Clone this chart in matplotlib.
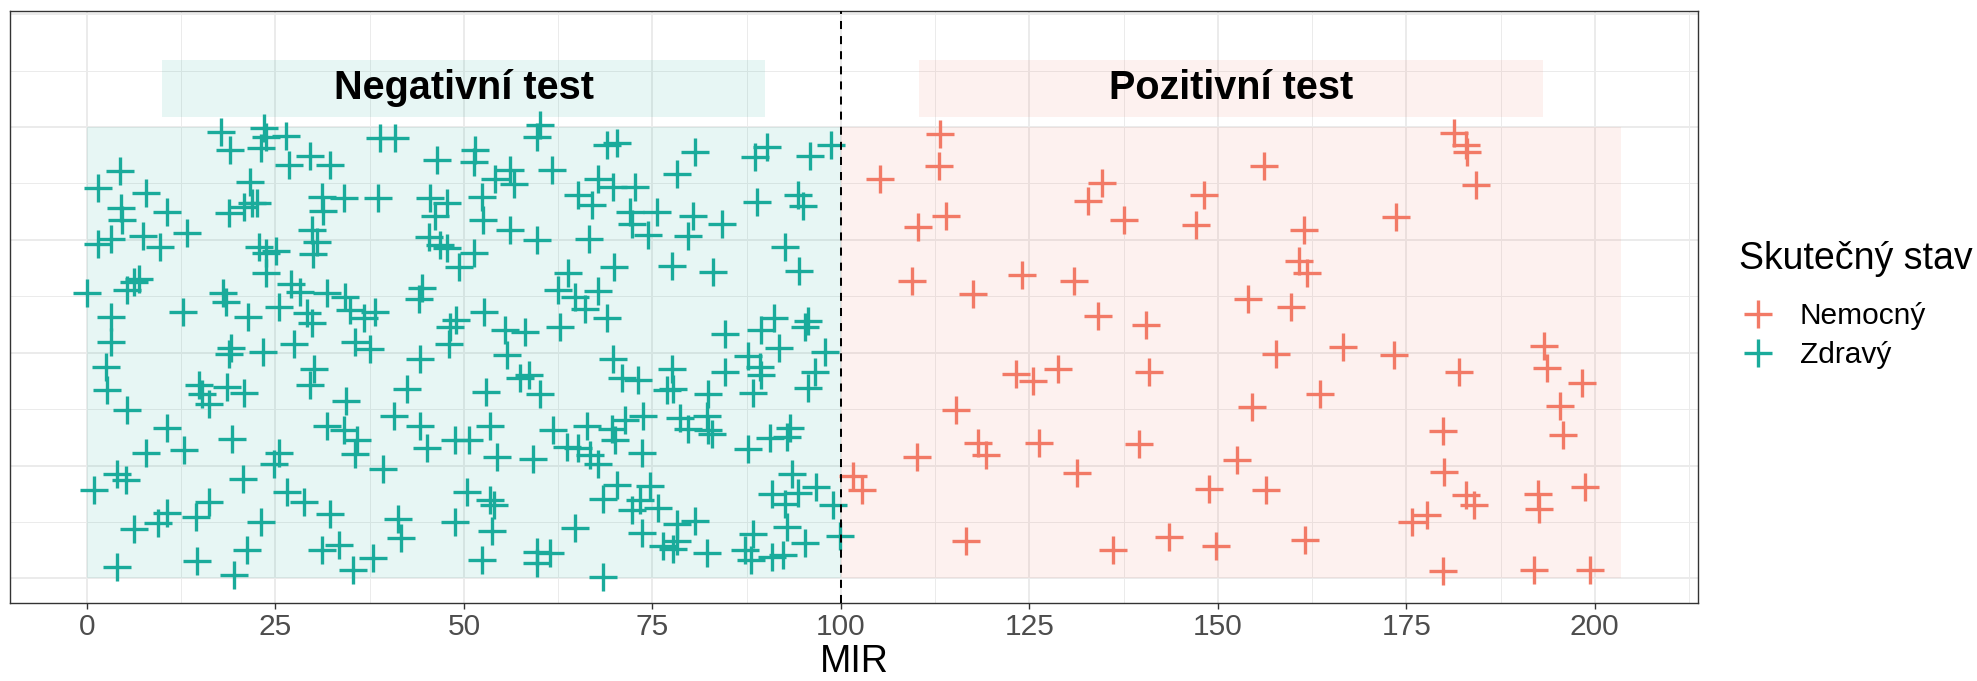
import matplotlib
matplotlib.use("Agg")
import matplotlib.pyplot as plt
from matplotlib.lines import Line2D
from matplotlib.patches import Rectangle

plt.rcParams['font.family'] = ['Liberation Sans', 'DejaVu Sans']

# hodnoty (MIR, náhodný rozptyl v ose y)
zdravy_mir = [
    17.73, 23.47, 23.69, 23.03, 26.34, 18.97, 29.65, 32.21, 26.78, 38.84,
    40.91, 46.43, 4.40, 1.49, 7.80, 4.49, 4.71, 10.67, 13.32, 21.62,
    18.84, 20.82, 21.93, 22.59, 31.20, 31.29, 34.07, 38.57, 45.55, 47.76,
    46.21, 1.40, 3.16, 7.49, 9.70, 29.87, 30.54, 29.96, 22.81, 23.69,
    25.02, 23.69, 45.33, 46.87, 47.76, 0.07, 6.92, 6.25, 5.37, 3.16,
    3.25, 12.79, 18.09, 18.39, 21.35, 25.46, 27.00, 28.24, 31.86, 34.29,
    34.95, 36.72, 38.26, 29.21, 29.87, 44.44, 44.00, 27.45, 35.61, 37.60,
    47.97,
    49.30, 51.51, 51.29, 60.12, 59.67, 61.66, 56.05, 56.67, 52.39, 54.15,
    52.52, 56.05, 59.67, 68.95, 70.27, 67.84, 69.83, 72.70, 65.19, 66.96,
    72.04, 75.57, 72.26, 74.46, 80.65, 78.22, 80.34, 79.76, 84.18, 88.59,
    90.14, 95.88, 98.75, 88.90, 94.33, 95.00, 66.65, 51.29, 63.87, 69.92,
    77.55, 83.07, 92.56, 94.42, 62.54, 64.75, 66.08, 67.84, 68.95, 52.61,
    48.99, 48.19, 55.48, 58.13, 62.76, 84.62, 89.47, 91.11, 91.81, 95.66,
    95.21,
    18.84, 19.06, 23.34, 30.09, 29.65, 2.50, 2.72, 5.37, 14.86, 15.30,
    16.19, 18.62, 20.82, 10.67, 12.88, 19.28, 7.80, 4.05, 5.15, 0.95,
    6.25, 9.43, 10.58, 14.42, 16.19, 20.73, 23.12, 21.26, 14.64, 4.05,
    19.50, 25.46, 24.80, 26.56, 28.77, 32.30, 31.20, 33.40, 35.30, 37.95,
    34.42, 31.86, 34.07, 35.83, 35.61, 39.28, 40.69, 42.45, 44.13, 44.13,
    45.11, 41.26, 41.66,
    55.70, 57.47, 58.57, 60.12, 52.96, 53.49, 48.86, 50.62, 54.38, 59.23,
    61.88, 63.65, 65.19, 66.30, 66.74, 67.84, 69.61, 70.05, 71.37, 73.80,
    73.58, 69.83, 70.93, 73.14, 77.55, 76.89, 77.78, 82.41, 84.62, 87.71,
    89.25, 89.47, 88.37, 97.86, 96.54, 95.66, 78.66, 79.76, 82.19, 82.41,
    82.85, 87.71, 90.58, 92.79, 93.23, 50.40, 53.49, 53.93, 48.86, 53.71,
    52.39, 59.67, 59.67, 61.44, 64.75, 68.42, 68.50, 70.27, 72.26, 73.36,
    74.68, 75.79, 73.58, 78.22, 80.65, 76.45, 77.78, 78.22, 82.19, 87.27,
    88.02, 88.37, 90.80, 92.34, 92.79, 95.21, 90.80, 92.56, 93.58, 94.33,
    96.67, 98.97, 99.85,
]
zdravy_y = [
    0.988, 0.997, 0.979, 0.953, 0.980, 0.949, 0.936, 0.917, 0.916, 0.975,
    0.975, 0.927, 0.902, 0.864, 0.853, 0.820, 0.795, 0.812, 0.766, 0.879,
    0.809, 0.823, 0.831, 0.832, 0.844, 0.814, 0.842, 0.842, 0.842, 0.831,
    0.803, 0.742, 0.753, 0.758, 0.735, 0.773, 0.746, 0.718, 0.735, 0.721,
    0.726, 0.676, 0.757, 0.738, 0.731, 0.633, 0.664, 0.657, 0.638, 0.579,
    0.524, 0.591, 0.633, 0.613, 0.579, 0.602, 0.653, 0.635, 0.633, 0.624,
    0.594, 0.576, 0.591, 0.587, 0.565, 0.644, 0.618, 0.520, 0.524, 0.509,
    0.520,
    0.690, 0.949, 0.923, 1.004, 0.979, 0.905, 0.905, 0.874, 0.844, 0.886,
    0.794, 0.772, 0.749, 0.960, 0.964, 0.884, 0.868, 0.868, 0.849, 0.827,
    0.812, 0.812, 0.786, 0.760, 0.945, 0.897, 0.803, 0.758, 0.786, 0.934,
    0.956, 0.936, 0.960, 0.834, 0.849, 0.826, 0.753, 0.720, 0.677, 0.689,
    0.692, 0.678, 0.735, 0.681, 0.638, 0.624, 0.598, 0.637, 0.576, 0.590,
    0.573, 0.556, 0.550, 0.546, 0.556, 0.542, 0.550, 0.576, 0.511, 0.571,
    0.557,
    0.498, 0.511, 0.502, 0.465, 0.429, 0.469, 0.417, 0.373, 0.428, 0.409,
    0.387, 0.424, 0.411, 0.334, 0.285, 0.310, 0.278, 0.232, 0.219, 0.195,
    0.110, 0.123, 0.145, 0.136, 0.169, 0.221, 0.125, 0.062, 0.038, 0.025,
    0.007, 0.278, 0.253, 0.191, 0.169, 0.143, 0.063, 0.075, 0.018, 0.046,
    0.393, 0.337, 0.328, 0.307, 0.276, 0.243, 0.361, 0.420, 0.487, 0.337,
    0.290, 0.132, 0.089,
    0.494, 0.443, 0.450, 0.409, 0.413, 0.337, 0.306, 0.307, 0.268, 0.265,
    0.330, 0.291, 0.290, 0.337, 0.273, 0.254, 0.332, 0.307, 0.350, 0.361,
    0.278, 0.487, 0.445, 0.440, 0.463, 0.417, 0.420, 0.409, 0.457, 0.492,
    0.469, 0.450, 0.411, 0.502, 0.458, 0.421, 0.356, 0.332, 0.361, 0.328,
    0.321, 0.287, 0.312, 0.313, 0.334, 0.191, 0.173, 0.162, 0.125, 0.106,
    0.040, 0.058, 0.034, 0.057, 0.112, 0.004, 0.177, 0.206, 0.151, 0.173,
    0.204, 0.156, 0.100, 0.121, 0.128, 0.073, 0.066, 0.084, 0.057, 0.062,
    0.040, 0.099, 0.047, 0.051, 0.114, 0.078, 0.188, 0.165, 0.232, 0.189,
    0.202, 0.162, 0.093,
]

nemocny_mir = [
    113.19, 112.97, 105.15, 110.23, 113.98, 134.64, 132.75, 137.60, 148.20, 147.10,
    109.48, 117.51, 124.00, 130.89, 134.16, 140.47, 181.32, 182.86, 183.08, 184.18,
    156.15, 173.59, 161.45, 160.78, 161.89, 153.94, 159.68, 166.61, 193.24, 123.25,
    125.55, 128.77, 140.91, 115.22, 118.18, 119.28, 110.10, 126.34, 139.59, 131.29,
    101.62, 102.86, 116.63, 136.06, 143.56, 148.86, 149.75, 157.78, 173.37, 181.98,
    193.67, 198.31, 195.44, 195.75, 154.52, 163.52, 152.48, 156.37, 179.86, 179.99,
    182.86, 183.96, 192.48, 192.57, 198.75, 175.71, 177.78, 161.58, 179.86, 191.91,
    199.42,
]
nemocny_y = [
    0.984, 0.914, 0.886, 0.779, 0.803, 0.877, 0.837, 0.795, 0.849, 0.783,
    0.659, 0.631, 0.672, 0.659, 0.581, 0.562, 0.986, 0.960, 0.945, 0.871,
    0.914, 0.801, 0.772, 0.704, 0.676, 0.620, 0.602, 0.513, 0.514, 0.454,
    0.437, 0.465, 0.457, 0.373, 0.300, 0.273, 0.268, 0.299, 0.297, 0.234,
    0.228, 0.197, 0.084, 0.064, 0.092, 0.199, 0.072, 0.498, 0.494, 0.458,
    0.467, 0.433, 0.381, 0.317, 0.380, 0.408, 0.262, 0.195, 0.327, 0.236,
    0.184, 0.162, 0.188, 0.154, 0.202, 0.125, 0.140, 0.086, 0.016, 0.019,
    0.019,
]

stavy = ["Nemocný", "Zdravý"]
testy = ["Negativní test", "Pozitivní test"]
hranice = [0, 100, 203.5]
prah = 100

barvy = {"Nemocný": "#F27A66", "Zdravý": "#1AAB9B"}
barvy_testu = {"Negativní test": barvy["Zdravý"], "Pozitivní test": barvy["Nemocný"]}

fig = plt.figure(figsize=(19.77, 6.81), dpi=100)
ax = fig.add_axes([0.0052, 0.1141, 0.8536, 0.8697])

for i, test in enumerate(testy):
    lo, hi = hranice[i], hranice[i + 1]
    w = hi - lo
    c = barvy_testu[test]
    ax.add_patch(Rectangle((lo, 0), w, 1, facecolor=c, alpha=0.1, lw=0, zorder=1))
    ax.add_patch(Rectangle((lo + 0.1 * w, 1.023), 0.8 * w, 0.126,
                           facecolor=c, alpha=0.1, lw=0, zorder=1))
    ax.text(lo + w / 2, 1.086, test, ha="center", va="center",
            fontsize=28.5, fontweight="bold", zorder=3)

data = {"Zdravý": (zdravy_mir, zdravy_y), "Nemocný": (nemocny_mir, nemocny_y)}
for stav in ["Zdravý", "Nemocný"]:
    xs, ys = data[stav]
    ax.plot(xs, ys, ls="none", marker="+", ms=19.5, mew=2.4,
            color=barvy[stav], zorder=2)

ax.axvline(prah, color="black", lw=1.45, ls=(0, (4, 3.5)), zorder=4)

ax.set_xlim(-10.17, 213.67)
ax.set_ylim(-0.055, 1.257)
ax.set_xticks(range(0, 201, 25))
ax.set_xticks([12.5 + 25 * k for k in range(9)], minor=True)
ax.set_yticks([0, 0.25, 0.5, 0.75, 1.0, 1.25])
ax.set_yticks([0.125, 0.375, 0.625, 0.875, 1.125], minor=True)
ax.tick_params(axis="y", which="both", length=0, labelleft=False)
ax.tick_params(axis="x", which="minor", length=0)
ax.tick_params(axis="x", which="major", length=4, width=1.0, color="#333333",
               labelcolor="#4D4D4D", labelsize=21.5, pad=3)
ax.grid(which="major", color="#EBEBEB", lw=1.4)
ax.grid(which="minor", color="#EBEBEB", lw=0.7)
ax.set_axisbelow(True)
for s in ax.spines.values():
    s.set_color("#333333")
    s.set_linewidth(1.0)
ax.set_xlabel("MIR", fontsize=27, labelpad=2)

# legenda: titulek zvlášť, aby šla nastavit mezera nad položkami
fig.text(0.8796, 1 - 259 / 681, "Skutečný stav", fontsize=27, va="center", ha="left")
handles = [Line2D([], [], ls="none", marker="+", ms=19.5, mew=2.4, color=barvy[s])
           for s in stavy]
leg = fig.legend(handles, stavy, loc="upper left",
                 bbox_to_anchor=(0.8796, 1 - 302 / 681), frameon=False, fontsize=21.5,
                 handlelength=1.27, handletextpad=0.77,
                 labelspacing=0.37, borderpad=0, borderaxespad=0)

fig.savefig("out.png", dpi=100)
